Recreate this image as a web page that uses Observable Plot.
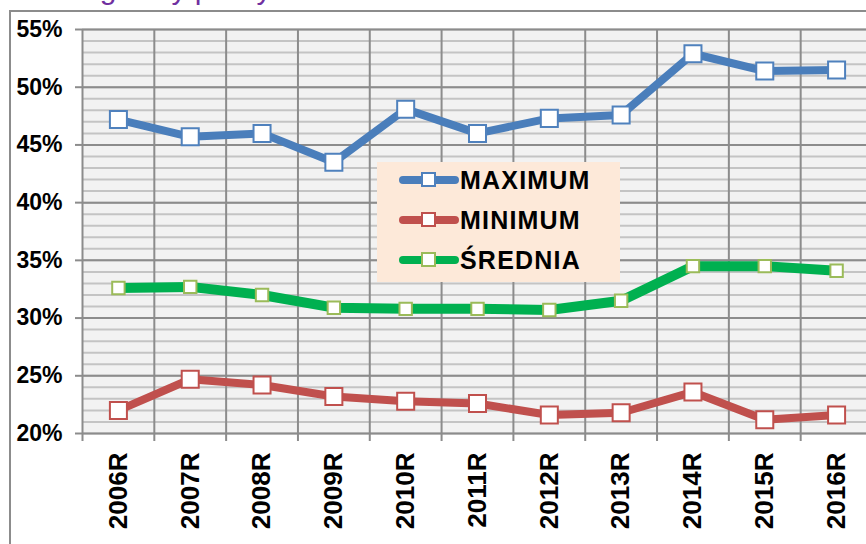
<!DOCTYPE html>
<html>
<head>
<meta charset="utf-8">
<script src="https://cdn.jsdelivr.net/npm/d3@7"></script>
<script src="https://cdn.jsdelivr.net/npm/@observablehq/plot@0.6"></script>
<style>
  html, body { margin: 0; padding: 0; width: 866px; height: 544px; overflow: hidden; background: #fff; font-family: "Liberation Sans", Arial, sans-serif; }
  #wrap { position: relative; width: 866px; height: 544px; overflow: hidden; }
  #title { position: absolute; left: 48px; top: -28px; font-size: 30px; color: #7030a0; white-space: nowrap; }
  #border { position: absolute; left: 9px; top: 10px; width: 900px; height: 600px; border-left: 2px solid #8c8c8c; border-top: 2px solid #8c8c8c; }
  #chart { position: absolute; left: 0; top: 0; width: 890px; }
  #chart svg { max-width: none !important; width: 890px; height: 544px; }
  #legend { position: absolute; left: 377px; top: 162px; width: 243px; height: 120px; background: #fde9d9; }
  .row { position: absolute; left: 20px; height: 30px; display: flex; align-items: center; }
  .row span { font-weight: bold; font-size: 25px; letter-spacing: 1.2px; color: #000; margin-left: -1px; }
</style>
</head>
<body>
<div id="wrap">
  <div id="title">Marginesy polisy</div>
  <div id="border"></div>
  <div id="chart"></div>
  <div id="legend"></div>
</div>
<script>
const years = ["2006R","2007R","2008R","2009R","2010R","2011R","2012R","2013R","2014R","2015R","2016R"];
const maximum = [47.2, 45.7, 46.0, 43.5, 48.1, 46.0, 47.3, 47.6, 52.9, 51.4, 51.5];
const minimum = [22.0, 24.7, 24.2, 23.2, 22.8, 22.6, 21.6, 21.8, 23.6, 21.2, 21.6];
const srednia = [32.6, 32.7, 32.0, 30.9, 30.8, 30.8, 30.7, 31.5, 34.5, 34.5, 34.1];
const seriesNames = ["MAXIMUM", "MINIMUM", "ŚREDNIA"];
const yTicks = [20, 25, 30, 35, 40, 45, 50, 55];

const lineColors = ["#4a7ebb", "#c0504d", "#00b050"];
const markerColors = ["#4f81bd", "#c0504d", "#9bbb59"];
const lineWidths = [8, 8, 10];
const markerR = [9.6, 9.6, 7];

const seriesValues = [maximum, minimum, srednia];
const rows = seriesValues.map((vals, s) => vals.map((v, i) => ({i, v, s})));

const minorGrid = d3.range(20, 56, 1);
const boundaries = d3.range(years.length + 1).map(i => i - 0.5);

const marks = [
  Plot.frame({fill: "#f2f2f2", stroke: null}),
  Plot.ruleY(minorGrid, {stroke: "#c4c4c4", strokeWidth: 2}),
  Plot.ruleY(yTicks, {stroke: "#8c8c8c", strokeWidth: 2}),
  Plot.ruleX(boundaries, {stroke: "#8c8c8c", strokeWidth: 2, insetBottom: -8}),
  Plot.axisY(yTicks, {tickSize: 7, tickPadding: 13, stroke: "#8c8c8c", strokeWidth: 2,
    tickFormat: d => d + "%", fontSize: 23, fontWeight: "bold", fill: "#000", label: null}),
  Plot.axisX(d3.range(years.length), {tickSize: 0, tickPadding: 19, rotate: -90, textAnchor: "end", lineAnchor: "middle",
    tickFormat: i => years[i], fontSize: 26, fontWeight: "bold", fill: "#000", label: null})
];
rows.forEach((data, s) => {
  marks.push(Plot.line(data, {x: "i", y: "v", stroke: lineColors[s], strokeWidth: lineWidths[s], strokeLinejoin: "round", strokeLinecap: "round"}));
});
rows.forEach((data, s) => {
  marks.push(Plot.dot(data, {x: "i", y: "v", symbol: "square", r: markerR[s], fill: "#fff", stroke: markerColors[s], strokeWidth: 2}));
});

const chart = Plot.plot({
  width: 890,
  height: 544,
  marginLeft: 82,
  marginRight: 18,
  marginTop: 29,
  marginBottom: 111,
  style: {fontFamily: "'Liberation Sans', Arial, sans-serif", background: "transparent", overflow: "visible", maxWidth: "none"},
  x: {type: "linear", domain: [-0.5, years.length - 0.5]},
  y: {domain: [20, 55]},
  marks
});
document.getElementById("chart").appendChild(chart);

// Legend
const legend = document.getElementById("legend");
const rowTops = [3, 43, 83];
seriesNames.forEach((name, s) => {
  const row = document.createElement("div");
  row.className = "row";
  row.style.top = rowTops[s] + "px";
  const svg = d3.create("svg").attr("width", 64).attr("height", 30);
  svg.append("line").attr("x1", 6).attr("x2", 58).attr("y1", 15).attr("y2", 15)
    .attr("stroke", lineColors[s]).attr("stroke-width", 8).attr("stroke-linecap", "round");
  svg.append("rect").attr("x", 25).attr("y", 8).attr("width", 13).attr("height", 13)
    .attr("fill", "#fff").attr("stroke", markerColors[s]).attr("stroke-width", 2);
  row.appendChild(svg.node());
  const t = document.createElement("span");
  t.textContent = name;
  row.appendChild(t);
  legend.appendChild(row);
});
</script>
</body>
</html>
